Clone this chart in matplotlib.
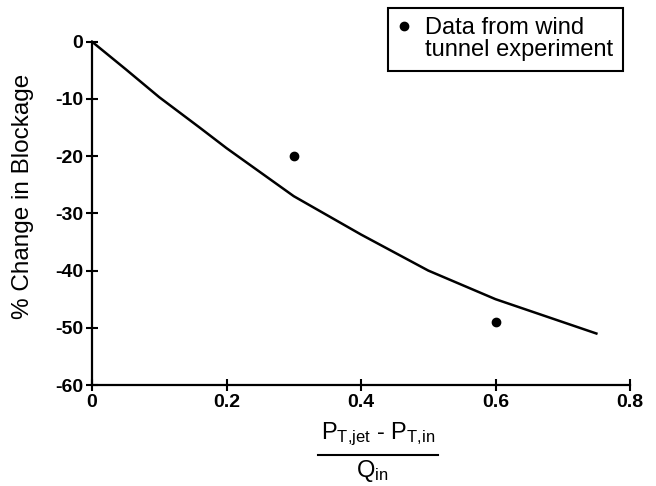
import numpy as np
import matplotlib
matplotlib.use('Agg')
import matplotlib.pyplot as plt
from matplotlib.lines import Line2D

plt.rcParams['font.family'] = ['Liberation Sans', 'DejaVu Sans']
plt.rcParams['mathtext.fontset'] = 'custom'
plt.rcParams['mathtext.rm'] = 'Liberation Sans'
plt.rcParams['mathtext.it'] = 'Liberation Sans:italic'

# model prediction
pressure_ratio = [0, 0.05, 0.1, 0.16, 0.2, 0.3, 0.4, 0.5, 0.6, 0.7, 0.75]
blockage_change = [0, -4.8, -9.7, -15.0, -18.6, -27.0, -33.7, -40.0, -45.0, -49.0, -51.0]

# wind tunnel measurements
exp_ratio = [0.3, 0.6]
exp_change = [-20, -49]

xticks = [0, 0.2, 0.4, 0.6, 0.8]
xtick_labels = ['0', '0.2', '0.4', '0.6', '0.8']
yticks = [0, -10, -20, -30, -40, -50, -60]

W, H = 656, 486
fig = plt.figure(figsize=(W / 100, H / 100), dpi=100)
ax = fig.add_axes([92 / W, 1 - 385 / H, (630 - 92) / W, (385 - 41.7) / H])

ax.plot(pressure_ratio, blockage_change, color='black', lw=1.8, clip_on=False)
ax.plot(exp_ratio, exp_change, 'o', color='black', ms=6, lw=0,
        label='Data from wind')
# second legend line, no marker
ax.plot([], [], lw=0, marker='', label='tunnel experiment')

ax.set_xlim(0, 0.8)
ax.set_ylim(-60, 0)
ax.set_xticks(xticks)
ax.set_xticklabels(xtick_labels)
ax.set_yticks(yticks)
ax.set_yticklabels([str(v) for v in yticks])

for side in ['top', 'right']:
    ax.spines[side].set_visible(False)
for side in ['left', 'bottom']:
    ax.spines[side].set_linewidth(1.6)
ax.tick_params(direction='inout', length=9, width=1.5, labelsize=14, pad=2)
for lbl in ax.get_xticklabels() + ax.get_yticklabels():
    lbl.set_fontweight('bold')

ax.set_ylabel('% Change in Blockage', fontsize=17.5)
ax.yaxis.set_label_coords(-0.108, 0.55)

# x label as a fraction
fig.text(378 / W, 1 - 434 / H, r'$\mathrm{P_{T{,}jet}}$ - $\mathrm{P_{T{,}in}}$',
         ha='center', va='center', fontsize=17)
fig.add_artist(Line2D([318 / W, 438 / W], [1 - 455 / H, 1 - 455 / H],
                      color='black', lw=1.5, transform=fig.transFigure))
fig.text(372 / W, 1 - 471 / H, r'$\mathrm{Q_{in}}$',
         ha='center', va='center', fontsize=17)

leg = ax.legend(loc='upper right', bbox_to_anchor=(623 / W, 1 - 8 / H),
                bbox_transform=fig.transFigure, borderaxespad=0,
                fancybox=False, frameon=True, edgecolor='black',
                handlelength=0.6, handletextpad=0.6, fontsize=17,
                borderpad=0.4, labelspacing=0.0)
leg.get_frame().set_linewidth(1.5)
leg.get_frame().set_alpha(1)

fig.savefig('out.png', dpi=100)
